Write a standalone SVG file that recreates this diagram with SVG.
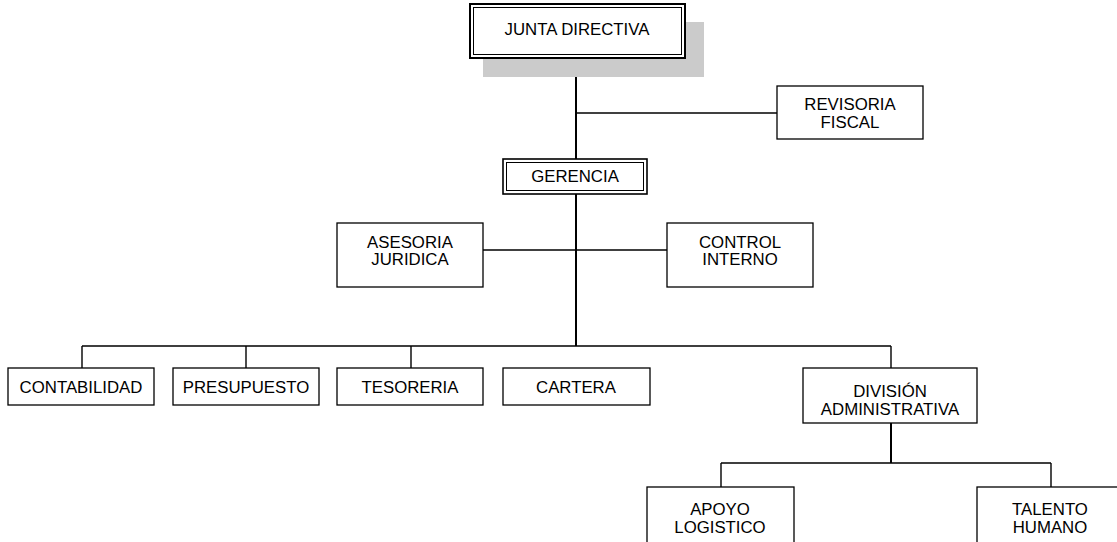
<svg xmlns="http://www.w3.org/2000/svg" width="1117" height="542" viewBox="0 0 1117 542">
<style>
.box{fill:#fff;stroke:#000;stroke-width:1.3}
.in{fill:none;stroke:#000;stroke-width:1}
.t{font-family:"Liberation Sans",Arial,sans-serif;font-size:16.8px;fill:#000;text-anchor:middle}
.c{fill:none;stroke:#000;stroke-width:1.4}
.k{fill:none;stroke:#000;stroke-width:2}
</style>
<rect width="1117" height="542" fill="#fff"/>
<g id="connectors">
<path class="k" d="M576 58V346"/>
<path class="c" d="M576 113H777"/>
<path class="c" d="M483 250H667"/>
<path class="c" d="M82 346H891M82 346V368M246 346V368M411 346V368M891 346V368"/>
<path class="k" d="M891 423V463"/>
<path class="c" d="M721 463H1051M721 463V487M1051 463V487"/>
</g>
<g id="junta">
<rect x="483" y="22" width="221" height="55" fill="#cbcbcb"/>
<rect x="470" y="4" width="215" height="54" fill="#fff" stroke="#000" stroke-width="2"/>
<rect x="473.5" y="7.5" width="208" height="47" class="in"/>
<text class="t" x="577" y="35">JUNTA DIRECTIVA</text>
</g>
<g id="revisoria">
<rect class="box" x="777" y="86" width="146" height="53"/>
<text class="t" x="850" y="110">REVISORIA</text>
<text class="t" x="850" y="128">FISCAL</text>
</g>
<g id="gerencia">
<rect x="503" y="159" width="144" height="35" fill="#fff" stroke="#000" stroke-width="1.6"/>
<rect x="506.5" y="162.5" width="137" height="28" class="in"/>
<text class="t" x="575" y="182">GERENCIA</text>
</g>
<g id="asesoria">
<rect class="box" x="337" y="223" width="146" height="64"/>
<text class="t" x="410" y="248">ASESORIA</text>
<text class="t" x="410" y="265">JURIDICA</text>
</g>
<g id="control">
<rect class="box" x="667" y="223" width="146" height="64"/>
<text class="t" x="740" y="248">CONTROL</text>
<text class="t" x="740" y="265">INTERNO</text>
</g>
<g id="contabilidad">
<rect class="box" x="8" y="368" width="146" height="37"/>
<text class="t" x="81" y="393">CONTABILIDAD</text>
</g>
<g id="presupuesto">
<rect class="box" x="173" y="368" width="146" height="37"/>
<text class="t" x="246" y="393">PRESUPUESTO</text>
</g>
<g id="tesoreria">
<rect class="box" x="337" y="368" width="146" height="37"/>
<text class="t" x="410" y="393">TESORERIA</text>
</g>
<g id="cartera">
<rect class="box" x="503" y="368" width="147" height="37"/>
<text class="t" x="576" y="393">CARTERA</text>
</g>
<g id="division">
<rect class="box" x="803" y="368" width="174" height="55"/>
<text class="t" x="890" y="397">DIVISIÓN</text>
<text class="t" x="890" y="415">ADMINISTRATIVA</text>
</g>
<g id="apoyo">
<rect class="box" x="647" y="487" width="147" height="60"/>
<text class="t" x="720" y="515">APOYO</text>
<text class="t" x="720" y="533">LOGISTICO</text>
</g>
<g id="talento">
<rect class="box" x="977" y="487" width="146" height="60"/>
<text class="t" x="1050" y="515">TALENTO</text>
<text class="t" x="1050" y="533">HUMANO</text>
</g>
</svg>
